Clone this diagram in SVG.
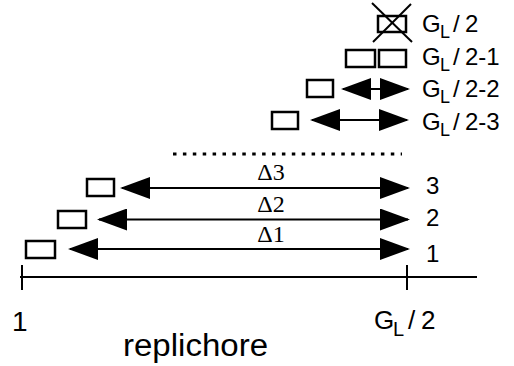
<svg xmlns="http://www.w3.org/2000/svg" width="514" height="366" viewBox="0 0 514 366">
  <style>
    .box { fill: #fff; stroke: #000; stroke-width: 2.5; }
    .ln { stroke: #000; stroke-width: 2; fill: none; }
    .arr { stroke: #000; stroke-width: 2; fill: none; marker-start: url(#ah); marker-end: url(#ah); }
    .sans { font-family: "Liberation Sans", Arial, sans-serif; fill: #000; }
    .serif { font-family: "Liberation Serif", "Times New Roman", serif; fill: #000; font-size: 24px; text-anchor: middle; }
    .lab { font-size: 24px; }
    .sub { font-size: 18px; }
  </style>
  <defs>
    <marker id="ah" markerUnits="userSpaceOnUse" markerWidth="30" markerHeight="22" viewBox="0 0 30 22" refX="28" refY="11" orient="auto-start-reverse">
      <path d="M0,0 L30,11 L0,22 Z" fill="#000"/>
    </marker>
  </defs>

  <g id="axis">
    <line class="ln" x1="20" y1="277" x2="477" y2="277"/>
    <line class="ln" x1="22" y1="265" x2="22" y2="290" stroke-width="2.5"/>
    <line class="ln" x1="407" y1="265" x2="407" y2="290" stroke-width="2.5"/>
    <text class="sans" x="12" y="331" font-size="28">1</text>
    <text class="sans" x="374" y="329" font-size="26">G<tspan x="393" dy="7" font-size="20">L</tspan><tspan x="408" dy="-7">/</tspan><tspan x="421">2</tspan></text>
    <text class="sans" x="123" y="356" font-size="31" textLength="145" lengthAdjust="spacingAndGlyphs">replichore</text>
  </g>

  <g id="row-GL2">
    <rect class="box" x="378" y="16" width="28" height="16"/>
    <line class="ln" x1="372" y1="3" x2="412" y2="42"/>
    <line class="ln" x1="411" y1="4" x2="373" y2="42"/>
    <text class="sans lab" x="422" y="32">G<tspan class="sub" x="440" dy="6">L</tspan><tspan x="453" dy="-6">/</tspan><tspan x="465">2</tspan></text>
  </g>

  <g id="row-GL2-1">
    <rect class="box" x="346" y="50" width="29" height="17"/>
    <rect class="box" x="379" y="50" width="27" height="17"/>
    <text class="sans lab" x="422" y="65">G<tspan class="sub" x="440" dy="6">L</tspan><tspan x="453" dy="-6">/</tspan><tspan x="465">2-1</tspan></text>
  </g>

  <g id="row-GL2-2">
    <rect class="box" x="307" y="80" width="26" height="17"/>
    <text class="sans lab" x="422" y="97">G<tspan class="sub" x="440" dy="6">L</tspan><tspan x="453" dy="-6">/</tspan><tspan x="465">2-2</tspan></text>
  </g>

  <g id="row-GL2-3">
    <rect class="box" x="272" y="112" width="26" height="17"/>
    <text class="sans lab" x="422" y="130">G<tspan class="sub" x="440" dy="6">L</tspan><tspan x="453" dy="-6">/</tspan><tspan x="465">2-3</tspan></text>
  </g>

  <g id="ellipsis">
    <line x1="173" y1="154" x2="402" y2="154" stroke="#000" stroke-width="3" stroke-dasharray="3.5 6.4"/>
  </g>

  <g id="row-3">
    <rect class="box" x="87" y="179" width="27" height="17"/>
    <text class="serif" x="271" y="180">Δ3</text>
    <text class="sans lab" x="426" y="194">3</text>
  </g>

  <g id="row-2">
    <rect class="box" x="58" y="211" width="28" height="17"/>
    <text class="serif" x="271" y="212">Δ2</text>
    <text class="sans lab" x="426" y="226">2</text>
  </g>

  <g id="row-1">
    <rect class="box" x="26" y="241" width="29" height="17"/>
    <text class="serif" x="271" y="242">Δ1</text>
    <text class="sans lab" x="426" y="262">1</text>
  </g>

  <g id="connectors">
    <line class="arr" x1="343" y1="89" x2="408" y2="89"/>
    <line class="arr" x1="312" y1="120" x2="407" y2="120"/>
    <line class="arr" x1="122" y1="188" x2="408" y2="188"/>
    <line class="arr" x1="99" y1="219.5" x2="408" y2="219.5"/>
    <line class="arr" x1="70" y1="249" x2="408" y2="249"/>
  </g>
</svg>
